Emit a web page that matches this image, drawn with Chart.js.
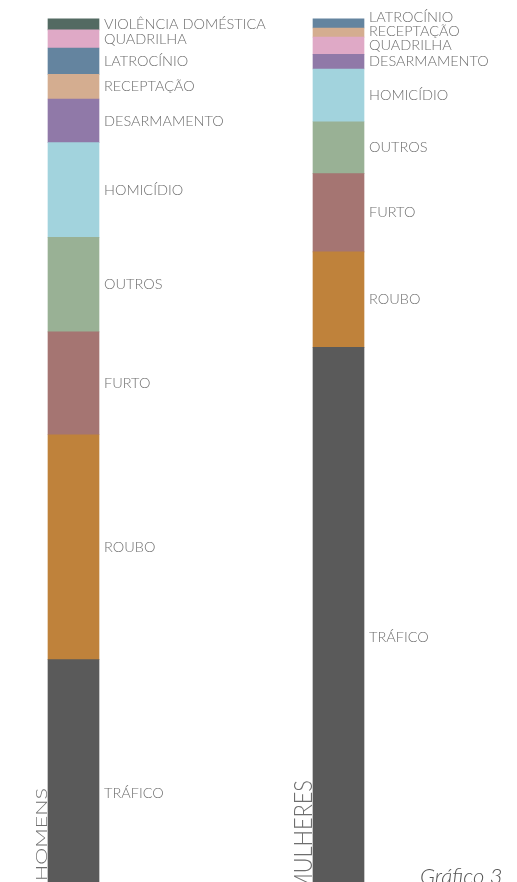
<!DOCTYPE html>
<html>
<head>
<meta charset="utf-8">
<script src="https://cdn.jsdelivr.net/npm/chart.js@4/dist/chart.umd.min.js"></script>
<style>
    html, body { margin: 0; padding: 0; background: #fff; overflow: hidden; }
    #wrap { width: 517px; height: 930px; }
</style>
</head>
<body>
<div id="wrap"><canvas id="crimeChart" width="517" height="930"></canvas></div>
<script>
// barras (de baixo para cima)
const barLabels = ['HOMENS', 'MULHERES'];
const menCrimes = ['TRÁFICO', 'ROUBO', 'FURTO', 'OUTROS', 'HOMICÍDIO', 'DESARMAMENTO', 'RECEPTAÇÃO', 'LATROCÍNIO', 'QUADRILHA', 'VIOLÊNCIA DOMÉSTICA'];
const menValues = [29.5, 24.7, 11.3, 10.4, 10.4, 4.8, 2.7, 2.9, 2.0, 1.2];
const womenCrimes = ['TRÁFICO', 'ROUBO', 'FURTO', 'OUTROS', 'HOMICÍDIO', 'DESARMAMENTO', 'QUADRILHA', 'RECEPTAÇÃO', 'LATROCÍNIO'];
const womenValues = [63.8, 10.5, 8.6, 5.7, 5.8, 1.6, 1.9, 1.0, 1.0];
const chartTitle = 'Gráfico 3';

const crimeColors = {
    'TRÁFICO': '#5a5a5a',
    'ROUBO': '#bf823b',
    'FURTO': '#a57572',
    'OUTROS': '#99b195',
    'HOMICÍDIO': '#a2d3dd',
    'DESARMAMENTO': '#9079a8',
    'RECEPTAÇÃO': '#d4ad90',
    'LATROCÍNIO': '#64849f',
    'QUADRILHA': '#dfa9c6',
    'VIOLÊNCIA DOMÉSTICA': '#536a62'
};
const textColor = '#6e6e6e';

// cada camada empilha o i-ésimo crime de cada barra
const layers = [];
const nLayers = Math.max(menCrimes.length, womenCrimes.length);
for (let i = 0; i < nLayers; i++) {
    const names = [menCrimes[i] || '', womenCrimes[i] || ''];
    layers.push({
        label: 'camada ' + i,
        names: names,
        data: [menValues[i] ?? null, womenValues[i] ?? null],
        backgroundColor: names.map(n => crimeColors[n] || 'transparent'),
        borderWidth: 0,
        barThickness: 51,
        clip: false
    });
}

// texto girado, esticado/comprimido até o comprimento dado
function verticalText(ctx, text, x, y, font, length) {
    ctx.save();
    ctx.font = font;
    const w = ctx.measureText(text).width;
    ctx.translate(x, y);
    ctx.rotate(-Math.PI / 2);
    ctx.scale(length / w, 1);
    ctx.fillText(text, 0, 0);
    ctx.restore();
}

// rótulos ao lado dos segmentos + textos verticais
const segmentLabels = {
    id: 'segmentLabels',
    afterDatasetsDraw(chart) {
        const ctx = chart.ctx;
        ctx.save();
        ctx.fillStyle = textColor;
        ctx.font = '300 14.5px Lato';
        ctx.textBaseline = 'middle';
        ctx.textAlign = 'left';

        barLabels.forEach((_, bi) => {
            let prevY = Infinity;
            chart.data.datasets.forEach((ds, di) => {
                const el = chart.getDatasetMeta(di).data[bi];
                const name = ds.names[bi];
                if (!el || !name || ds.data[bi] == null) return;
                let y = (el.y + el.base) / 2;
                y = Math.min(y, prevY - 14);
                prevY = y;
                ctx.fillText(name, el.x + 25.5 + 5, y);
            });
        });

        ctx.textBaseline = 'alphabetic';
        verticalText(ctx, 'HOMENS', 47, 881, '300 16px Lato', 93);
        verticalText(ctx, 'MULHERES', 312, 893, '300 26px Lato', 113);

        // título
        ctx.fillStyle = '#555';
        ctx.font = 'italic 300 22px Lato';
        ctx.fillText(chartTitle, 420, 884);
        ctx.restore();
    }
};

new Chart(document.getElementById('crimeChart'), {
    type: 'bar',
    data: { labels: barLabels, datasets: layers },
    options: {
        responsive: false,
        animation: false,
        devicePixelRatio: 1,
        layout: { padding: { left: 73.5, right: 178.5, top: 18, bottom: 2 } },
        plugins: { legend: { display: false }, tooltip: { enabled: false } },
        scales: {
            x: { stacked: true, offset: false, display: false },
            y: { stacked: true, min: 0, max: 100, display: false }
        }
    },
    plugins: [segmentLabels]
});
</script>
</body>
</html>
